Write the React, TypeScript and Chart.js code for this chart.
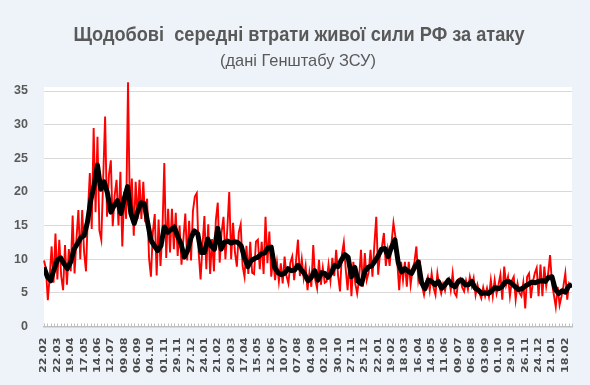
import React, { useEffect, useRef } from 'react';
import { Chart, registerables } from 'chart.js';

Chart.register(...registerables);

// ---- data ----
const TITLE = 'Щодобові  середні втрати живої сили РФ за атаку';
const SUBTITLE = '(дані Генштабу ЗСУ)';

// x tick labels, one every LABEL_STEP_DAYS days starting 22.02
const TICK_LABELS = [
  '22.02', '22.03', '19.04', '17.05', '14.06', '12.07', '09.08', '06.09', '04.10', '01.11',
  '29.11', '27.12', '24.01', '21.02', '20.03', '17.04', '15.05', '12.06', '10.07', '07.08',
  '04.09', '02.10', '30.10', '27.11', '25.12', '22.01', '19.02', '18.03', '16.04', '14.05',
  '11.06', '09.07', '06.08', '03.09', '01.10', '29.10', '26.11', '24.12', '21.01', '18.02',
];
const LABEL_STEP_DAYS = 28;
const MINOR_TICK_DAYS = 7;
const LAST_DAY = 1106;
const Y_MAX = 35;
const Y_STEP = 5;

// daily losses per attack (red), one value every RED_STEP_DAYS days
const RED_STEP_DAYS = 4;
const dailyLosses = [
  9.8, 8.6, 3.9, 7.5, 11.9, 6.5, 13.8, 7.0, 12.9, 7.5,
  5.4, 12.1, 6.2, 11.5, 8.2, 16.5, 7.9, 13.0, 17.3, 10.0,
  17.3, 11.0, 8.2, 17.0, 22.8, 14.5, 29.5, 17.0, 28.2, 14.3,
  12.9, 22.0, 31.2, 16.3, 22.5, 24.7, 14.9, 19.5, 21.8, 15.0,
  23.0, 11.9, 20.0, 16.0, 36.3, 16.4, 22.0, 13.5, 21.5, 16.0,
  21.8, 16.0, 21.5, 15.5, 19.0, 10.2, 7.4, 14.0, 16.7, 7.6,
  15.9, 9.0, 14.0, 24.3, 10.2, 17.5, 11.0, 17.5, 11.5, 16.9,
  10.5, 15.0, 9.2, 13.0, 16.8, 9.8, 15.7, 9.8, 17.2, 19.3,
  19.8, 11.0, 7.0, 12.0, 16.4, 8.5, 15.2, 7.8, 13.0, 8.2,
  15.8, 18.4, 9.5, 14.0, 16.3, 10.0, 14.5, 20.0, 10.0, 15.4,
  11.0, 8.9, 14.0, 15.2, 9.0, 7.4, 12.0, 7.8, 12.6, 8.0,
  7.8, 12.6, 12.9, 8.5, 12.6, 7.8, 16.3, 9.4, 14.1, 7.4,
  10.1, 6.9, 9.5, 6.7, 9.4, 6.4, 10.4, 7.5, 6.4, 9.5,
  10.4, 6.9, 9.8, 12.9, 7.5, 10.0, 7.2, 9.0, 5.4, 8.0,
  5.9, 12.1, 7.0, 5.7, 9.9, 6.2, 8.7, 6.5, 6.7, 9.2,
  6.8, 10.2, 7.5, 11.4, 7.6, 5.2, 10.7, 12.5, 8.5, 5.4,
  9.9, 4.5, 9.6, 6.4, 4.9, 7.0, 11.4, 5.9, 10.9, 6.9,
  8.0, 11.4, 7.4, 12.1, 16.3, 7.7, 11.0, 11.9, 13.9, 9.0,
  11.4, 9.0, 12.5, 15.4, 13.4, 9.6, 5.4, 9.6, 6.9, 9.6,
  5.9, 9.6, 6.2, 8.5, 9.6, 11.9, 7.0, 8.9, 6.0, 4.7,
  6.5, 7.4, 5.4, 7.9, 5.8, 4.7, 7.9, 6.0, 4.9, 6.3,
  5.3, 6.9, 7.2, 5.4, 7.9, 5.0, 4.5, 7.0, 7.2, 5.8,
  5.2, 6.8, 5.5, 7.4, 6.0, 7.2, 4.7, 6.2, 5.0, 4.2,
  5.8, 4.5, 5.7, 4.4, 6.9, 4.5, 6.9, 4.9, 6.2, 7.7,
  4.0, 8.9, 6.2, 7.4, 4.5, 6.8, 7.4, 4.0, 6.4, 5.0,
  4.5, 6.5, 2.7, 7.4, 7.9, 4.2, 6.6, 7.9, 8.7, 4.5,
  9.2, 4.5, 8.9, 6.0, 7.8, 10.6, 6.5, 4.7, 2.9, 5.9,
  3.2, 4.5, 6.0, 7.9, 4.0, 6.4, 6.0,
];

// weekly moving average (black), one value every AVG_STEP_DAYS days
const AVG_STEP_DAYS = 7;
const movingAverage = [
  8.8, 7.4, 6.8, 8.5, 9.9, 10.2, 9.3, 8.6, 9.6, 11.5,
  12.3, 13.2, 13.5, 15.5, 18.8, 21.0, 24.0, 20.4, 21.5, 19.8,
  17.0, 18.0, 18.7, 16.8, 19.0, 20.8, 16.8, 15.3, 17.0, 18.4,
  18.3, 15.5, 12.8, 12.0, 11.3, 12.0, 14.8, 14.0, 14.4, 14.8,
  13.4, 12.3, 10.3, 11.3, 13.2, 14.2, 13.8, 11.0, 11.0, 13.0,
  12.0, 11.5, 14.6, 11.5, 12.5, 12.7, 12.4, 12.6, 12.5, 12.0,
  10.2, 8.9, 9.8, 10.1, 10.3, 10.8, 10.9, 11.7, 11.8, 8.8,
  8.0, 7.7, 7.9, 8.6, 8.3, 8.4, 9.1, 8.4, 7.8, 6.8,
  7.3, 8.3, 6.9, 8.0, 7.9, 7.3, 8.0, 9.1, 8.9, 9.9,
  10.7, 10.3, 7.4, 8.8, 6.7, 6.3, 8.2, 8.8, 9.0, 9.7,
  10.5, 11.5, 11.6, 10.4, 11.8, 12.9, 9.5, 8.1, 8.6, 8.2,
  7.9, 8.9, 9.6, 6.5, 5.6, 6.9, 6.7, 6.2, 6.7, 5.7,
  6.2, 6.9, 6.2, 5.9, 6.7, 6.9, 6.2, 6.2, 6.7, 5.7,
  5.4, 4.9, 5.0, 4.9, 5.3, 5.8, 5.6, 5.9, 6.6, 6.7,
  6.4, 5.9, 5.5, 5.6, 6.0, 6.3, 6.6, 6.5, 6.7, 6.8,
  6.7, 7.3, 7.4, 5.5, 4.9, 5.3, 5.1, 6.0, 6.2,
];

// ---- styles ----
const PAGE_BG = '#EEF3F9';
const TEXT_COLOR = '#595959';
const GRID_COLOR = '#D9D9D9';
const AXIS_COLOR = '#BFBFBF';

function drawFittedText(ctx: CanvasRenderingContext2D, text: string, font: string, cx: number, baseline: number, targetWidth: number) {
  ctx.save();
  ctx.font = font;
  ctx.fillStyle = TEXT_COLOR;
  ctx.textAlign = 'center';
  ctx.textBaseline = 'alphabetic';
  const w = ctx.measureText(text).width;
  const sx = w > 0 ? targetWidth / w : 1;
  ctx.translate(cx, baseline);
  ctx.scale(sx, 1);
  ctx.fillText(text, 0, 0);
  ctx.restore();
}

const framePlugin = {
  id: 'frame',
  beforeDraw(chart: any) {
    const { ctx, chartArea, width, height } = chart;
    ctx.save();
    ctx.fillStyle = PAGE_BG;
    ctx.fillRect(0, 0, width, height);
    ctx.fillStyle = '#FFFFFF';
    ctx.fillRect(chartArea.left, chartArea.top - 4, chartArea.right - chartArea.left, chartArea.bottom - chartArea.top + 4);
    ctx.restore();
  },
  afterDraw(chart: any) {
    const { ctx, chartArea } = chart;
    const xs = chart.scales.x;

    drawFittedText(ctx, TITLE, 'bold 21px "Liberation Sans"', 299, 41, 451);
    drawFittedText(ctx, SUBTITLE, '17px "Liberation Sans"', 298, 66, 156);

    // minor tick marks pointing into plot
    ctx.save();
    ctx.strokeStyle = AXIS_COLOR;
    ctx.lineWidth = 1;
    ctx.beginPath();
    for (let d = 0; d <= LAST_DAY; d += MINOR_TICK_DAYS) {
      const x = Math.round(xs.getPixelForValue(d)) + 0.5;
      ctx.moveTo(x, chartArea.bottom);
      ctx.lineTo(x, chartArea.bottom - 3);
    }
    ctx.stroke();
    ctx.restore();

    // rotated date labels
    ctx.save();
    ctx.fillStyle = '#4A4A4A';
    ctx.font = 'bold 9.5px "DejaVu Sans"';
    ctx.textAlign = 'right';
    ctx.textBaseline = 'middle';
    TICK_LABELS.forEach((lab, i) => {
      const x = xs.getPixelForValue(i * LABEL_STEP_DAYS);
      ctx.save();
      ctx.translate(x, chartArea.bottom + 11);
      ctx.rotate(-Math.PI / 2);
      ctx.scale(1.18, 1);
      ctx.fillText(lab, 0, 0);
      ctx.restore();
    });
    ctx.restore();
  },
};

export default function App() {
  const ref = useRef<HTMLCanvasElement | null>(null);

  useEffect(() => {
    document.body.style.margin = '0';
    const canvas = ref.current;
    if (!canvas) return;
    const chart = new Chart(canvas, {
      type: 'line',
      data: {
        datasets: [
          {
            label: 'Середнє',
            data: movingAverage.map((v, i) => ({ x: Math.min(i * AVG_STEP_DAYS, LAST_DAY), y: v })),
            borderColor: '#000000',
            borderWidth: 5,
            pointRadius: 0,
            tension: 0,
            borderJoinStyle: 'round',
            order: 1,
          },
          {
            label: 'Щодобові',
            data: dailyLosses.map((v, i) => ({ x: i * RED_STEP_DAYS, y: v })),
            borderColor: '#FF0000',
            borderWidth: 1.9,
            pointRadius: 0,
            tension: 0,
            clip: false,
            order: 2,
          },
        ],
      },
      options: {
        animation: false,
        responsive: false,
        devicePixelRatio: 1,
        layout: { padding: { top: 91, right: 18, bottom: 0, left: 0 } },
        plugins: {
          legend: { display: false },
          tooltip: { enabled: false },
        },
        scales: {
          x: {
            type: 'linear',
            min: 0,
            max: LAST_DAY,
            grid: { display: false },
            border: { display: true, color: AXIS_COLOR, width: 1.5 },
            ticks: { display: false },
            afterFit: (s: any) => { s.height = 58.5; },
          },
          y: {
            min: 0,
            max: Y_MAX,
            ticks: {
              stepSize: Y_STEP,
              color: TEXT_COLOR,
              font: { family: '"Liberation Sans"', size: 12.5, weight: 'bold' },
              padding: 16,
            },
            grid: { color: GRID_COLOR, lineWidth: 1, drawTicks: false },
            border: { display: false },
            afterFit: (s: any) => { s.width = 44; },
          },
        },
      },
      plugins: [framePlugin],
    } as any);
    return () => chart.destroy();
  }, []);

  return (
    <div style={{ width: 590, height: 385 }}>
      <canvas ref={ref} width={590} height={385} style={{ display: 'block' }} />
    </div>
  );
}
